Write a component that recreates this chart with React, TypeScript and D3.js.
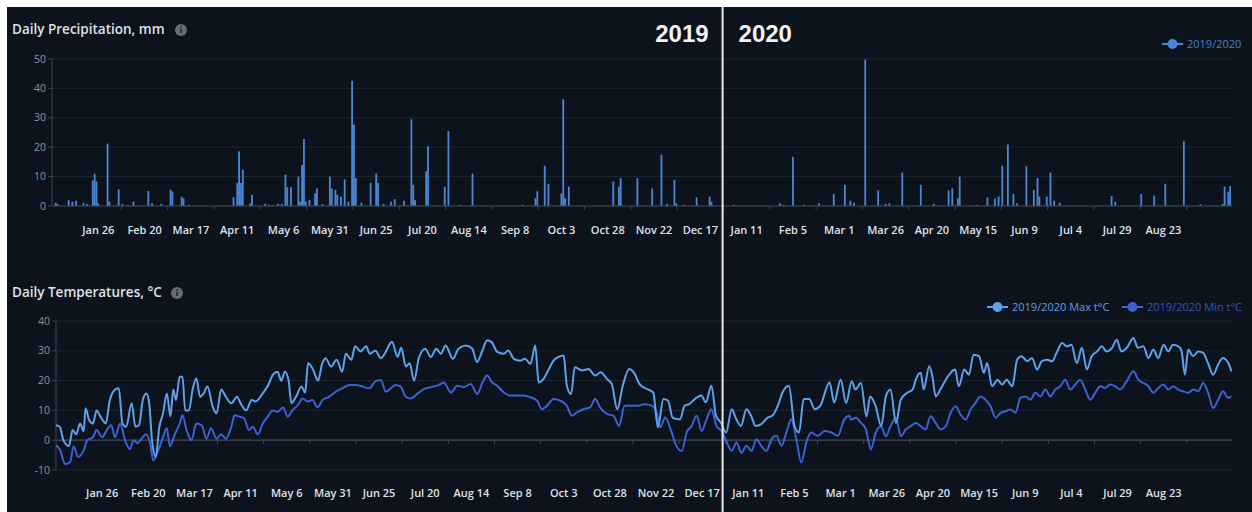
import * as d3 from "d3";

// day offsets are counted from 2019-01-01
const START = Date.UTC(2019, 0, 1);
const END_DAY = 637;
const DIVIDER_DAY = 362;

const tickDates = [
  "2019-01-26", "2019-02-20", "2019-03-17", "2019-04-11", "2019-05-06", "2019-05-31",
  "2019-06-25", "2019-07-20", "2019-08-14", "2019-09-08", "2019-10-03", "2019-10-28",
  "2019-11-22", "2019-12-17", "2020-01-11", "2020-02-05", "2020-03-01", "2020-03-26",
  "2020-04-20", "2020-05-15", "2020-06-09", "2020-07-04", "2020-07-29", "2020-08-23",
];
const precipTicks = [0, 10, 20, 30, 40, 50];
const tempTicks = [-10, 0, 10, 20, 30, 40];

// [day, mm]
const precip: [number, number][] = [
  [2, 1.1], [3, 0.7], [9, 2], [11, 1.5], [13, 1.8], [17, 1.1], [19, 0.7], [22, 8.7], [23, 11], [24, 8.3],
  [25, 0.9], [30, 21.2], [31, 1.5], [36, 5.7], [38, 0.7], [41, 0.4], [44, 1.5], [52, 5.1], [54, 0.9],
  [59, 0.7], [64, 5.5], [65, 4.9], [70, 3.2], [71, 2.6], [74, 0.4], [98, 3], [100, 7.8], [101, 18.6],
  [102, 7.8], [103, 12.3], [107, 0.9], [108, 3.8], [115, 0.7], [117, 0.4], [119, 0.4], [122, 0.7],
  [124, 0.7], [126, 10.6], [127, 6.4], [129, 6.4], [133, 10], [134, 1.5], [135, 14], [136, 22.8],
  [137, 1.5], [139, 2], [142, 4.3], [143, 6], [146, 0.7], [150, 10], [151, 6], [153, 5.5], [154, 3.8],
  [156, 3.2], [158, 9.1], [160, 1.5], [162, 42.6], [163, 27.7], [164, 9.5], [167, 1.1], [172, 7.8],
  [175, 11], [176, 7.8], [179, 0.7], [183, 1.5], [185, 2.3], [190, 1.8], [194, 29.5], [195, 7.2],
  [196, 2], [202, 11.8], [203, 20.3], [212, 6.6], [214, 25.5], [220, 0.4], [227, 11], [254, 0.4],
  [261, 2.6], [262, 5], [266, 13.7], [268, 7.5], [275, 4.3], [276, 36.3], [277, 2.6], [279, 6.6],
  [303, 8.3], [306, 6.6], [307, 9.5], [316, 9.5], [324, 6], [329, 17.5], [332, 0.7], [336, 8.9],
  [337, 0.9], [341, 0.4], [348, 2.9], [355, 3.2], [356, 1.5], [368, 0.4], [393, 0.9], [395, 0.4],
  [400, 16.7], [406, 0.4], [414, 0.9], [422, 4.1], [428, 7.2], [431, 1.8], [433, 1.1], [439, 49.8],
  [446, 5.3], [450, 0.7], [452, 0.9], [459, 11.4], [469, 7.2], [476, 0.7], [484, 5.3], [486, 6],
  [489, 2.6], [490, 10], [499, 0.4], [505, 2.9], [509, 2.6], [511, 3.2], [513, 13.7], [516, 20.9],
  [519, 4.1], [521, 0.9], [526, 13.5], [530, 5.5], [532, 9.5], [533, 3.2], [537, 3.2], [539, 11.4],
  [541, 1.8], [544, 1.1], [572, 3.4], [574, 1.5], [588, 4.1], [595, 3.5], [601, 7.5], [611, 22],
  [620, 0.6], [632, 0.7], [633, 6.6], [635, 4.9], [636, 6.8],
];

// [day, °C]
const maxTemp: [number, number][] = [
  [0, 5], [2, 4.5], [4, 0], [7, -2], [9, 3.4], [11, 2], [13, 5.6], [15, 3], [16, 10.7], [18, 6.7],
  [20, 5.6], [22, 10], [24, 8], [27, 5.6], [29, 13], [32, 17], [34, 17.4], [36, 5.6], [38, 4.5],
  [41, 12.4], [43, 4.5], [45, 5], [47, 13.5], [49, 15.7], [50.5, 12.4], [52, 0], [54, -5.6], [56, 4.5],
  [58, 9], [60, 15.7], [62, 8], [63.5, 17], [65, 13.5], [67, 21.3], [68.5, 21.3], [70, 10], [72, 10],
  [74, 17], [76, 20.8], [78, 14.6], [80, 15.7], [82, 18], [85, 11], [87, 9], [89.5, 17], [92, 14.6],
  [95, 12.4], [98, 14.6], [100, 12.4], [103, 10], [106, 13.5], [108, 13], [112, 15.7], [115, 18.5],
  [117.5, 22], [120, 23], [122, 20], [124, 23], [126, 20], [127.5, 12.4], [130, 14.6], [133, 18],
  [135, 16], [136.5, 25.8], [139, 24], [142, 20], [144, 25.3], [146, 27.5], [149, 24.7], [152, 27],
  [155, 23], [157, 29], [160, 27], [162, 31.5], [165, 29.8], [168, 31.5], [170, 29], [173, 30],
  [176, 27.5], [178, 29], [182, 33], [185, 28], [187, 31], [189.5, 24.7], [191.5, 25.8], [194, 20],
  [196.5, 27.5], [200, 30.7], [203, 27.9], [206, 30.7], [208.5, 29], [211, 31.8], [215, 27.3],
  [218, 30.7], [222, 31.8], [225.5, 30.7], [228, 26.2], [231, 30.1], [233.5, 33.5], [236, 32.9],
  [239, 29.6], [242.5, 29], [245, 30.1], [248, 27.3], [251.5, 26.7], [254, 27.3], [257, 25.6],
  [259.6, 31.8], [261.4, 19.4], [264, 20.5], [267, 23.9], [269.5, 26.7], [272, 27.9], [275, 28.4],
  [276.7, 18.3], [279, 15.5], [281, 24.5], [285, 23.4], [288.5, 23.9], [292, 21.7], [295, 22.8],
  [298.5, 20.5], [301, 18.9], [304, 10.4], [307, 18.3], [310.5, 23.9], [313.5, 22.2], [316, 18.9],
  [320, 17.2], [323.5, 16], [326, 4.3], [329, 13.8], [331.5, 13.3], [334, 7.6], [338, 7], [340.5, 11.6],
  [343, 12.1], [346, 13.8], [349.5, 15], [352, 12.7], [355, 18.3], [357.5, 8.2], [360, 6], [363, 2.6],
  [366, 10.4], [368.5, 7], [371, 4.8], [374, 10.4], [376.5, 8.2], [379, 4.8], [382, 5.4], [385.5, 7.6],
  [388, 8.2], [391, 11.6], [393.5, 16], [397, 18.3], [400, 4.8], [402.5, 2.6], [405, 13.8], [408, 13.8],
  [411, 10.4], [414, 11.6], [419, 19.4], [421.5, 12.7], [425, 20.3], [428, 12.5], [431, 19.8],
  [433, 17], [436, 19.2], [439, 8], [441, 14.7], [444, 11.4], [447, 4.7], [449.5, 14.7], [452, 17],
  [455, 5.8], [457.6, 13.6], [461, 15.9], [464, 17], [465.7, 20.3], [468.4, 22.6], [470, 17],
  [473, 24.8], [474.7, 21.5], [476.5, 14.7], [479, 17], [482, 20.3], [484.6, 22.6], [487, 23.7],
  [489, 18.1], [492, 23.7], [494.5, 22], [497, 28.7], [500, 28.2], [502.6, 22.6], [504.4, 25.9],
  [507, 18.1], [510, 20.3], [512.5, 18.7], [515, 20.3], [518, 18.1], [520.6, 27], [523, 28.2],
  [526, 26.5], [528.7, 27.6], [531.4, 23.7], [534, 26.5], [537, 27], [539.5, 26.5], [542, 29.3],
  [545, 32.6], [547.6, 31.5], [550, 32], [553, 25.9], [555.7, 31], [558.4, 23.7], [561, 28.2],
  [564, 29.8], [566.5, 31.5], [569, 29.8], [572, 31], [574.6, 33.7], [577, 29.8], [580, 31],
  [583.6, 34.3], [586, 31], [589, 31.5], [591.7, 27.6], [594.4, 30.4], [597, 27.6], [600, 32],
  [602.5, 29.8], [605, 32], [608, 31.5], [609.7, 29.8], [611.5, 22], [613.3, 30.4], [616, 28.2],
  [618.7, 29.8], [621.4, 29.3], [624, 25.9], [626.8, 22], [629.5, 25.4], [632, 27.6], [635, 25.9],
  [636.7, 23.1],
];

const minTemp: [number, number][] = [
  [0, -1.7], [2, -3], [5, -8], [7.7, -7.3], [9.5, -2], [12, -5.6], [15, -3.4], [17, 0], [20, 1],
  [22, 3.4], [25, 1], [27.5, 3.4], [30, 5], [32, 1], [34.7, 5.6], [37.4, 0], [40, -3], [42, 0],
  [44, -1], [46.4, 0.5], [48.7, 2], [51, -1], [52.7, -6.7], [55.4, -3.4], [58, 1], [60, 4], [61.7, -2],
  [64.4, 2], [67, 5.6], [68.5, 8.4], [70.7, 3.4], [73.4, 0], [76, 5.6], [79, 5], [81.5, 0.5], [84, 4],
  [87, 0.5], [89.5, 2], [92, 0.5], [95, 4.5], [96.7, 8.4], [99.4, 7.9], [102, 7.3], [104.5, 3.4],
  [106.6, 4.5], [109.3, 2], [112, 5.6], [114.7, 7.9], [117.4, 10], [120, 9.5], [123, 11], [125.5, 7.9],
  [128, 10], [131, 11.8], [133.6, 14], [136.3, 13], [139, 13.5], [141.7, 11], [144.4, 13.5],
  [148, 14.6], [151.6, 16.3], [155, 17.4], [159, 18.5], [162.4, 18.5], [166, 18], [169.6, 17.4],
  [173, 19.7], [176, 20.2], [178.6, 16.3], [181.3, 17.4], [184, 18.5], [186.7, 18], [189.4, 14.6],
  [192, 14], [196, 15.7], [199.5, 17.2], [203, 17.8], [206.6, 18.3], [210.2, 19.4], [213.8, 16],
  [217.4, 18.3], [221, 17.8], [224.6, 18.9], [228.2, 15.5], [231, 19.4], [233.5, 21.7], [236.2, 19.4],
  [239, 18.3], [242.6, 16], [246, 15], [249.7, 15], [253.3, 15], [257, 14.4], [260.5, 13.3],
  [263.2, 10.4], [266, 11.6], [269.5, 13.8], [273, 13.3], [276.7, 11.6], [279.4, 8.2], [282, 9.3],
  [285.7, 10.4], [289.3, 11], [292, 13.8], [294.7, 11], [298.3, 8.8], [302, 8.2], [305, 4.8],
  [308, 11.6], [312, 11.6], [315.5, 11.6], [319, 12.1], [322.7, 11.6], [325.4, 9.3], [327.2, 4.3],
  [330, 7.6], [333.5, 2.6], [336, -1.9], [339, -3.6], [341.6, 2.6], [344.3, 4.8], [347, 8.2],
  [349.7, 3.1], [352.4, 7], [355, 10.4], [357.8, 4.8], [360.5, 3.1], [363, -0.2], [366, -3.6],
  [368.6, -0.8], [371.3, -4.2], [374, -1.9], [376.7, -3.6], [379.4, 0.3], [382, -1.9], [384.8, -3.6],
  [387.5, 0.3], [390.2, 1.5], [393, -1.9], [395.6, 2.6], [398.3, 7], [401, 0.3], [403.7, -7.5],
  [406.4, -0.8], [409, 2.6], [412.7, 1.5], [416.3, 3.1], [420, 2.6], [423.5, 1.5], [427, 7],
  [429.7, 8.2], [430.7, 6.9], [433.4, 7.5], [436, 5.8], [438.7, 3.6], [441.4, -3.1], [444, 2.5],
  [446.8, 4.7], [449.5, 1.3], [452, 4.7], [455, 7.5], [457.6, 1.3], [460.3, 3.6], [463, 4.7],
  [465.7, 5.8], [468.4, 4.7], [471, 3.6], [473.8, 8], [476.5, 5.8], [479.2, 3.6], [482, 4.7],
  [484.6, 9.2], [487.3, 11.4], [490, 8.6], [492.7, 6.9], [495.4, 10.3], [498, 12.5], [500.8, 14.7],
  [503.5, 13.6], [506.2, 11.4], [508.9, 7.5], [511.6, 9.2], [514.3, 9.7], [517, 10.3], [519.7, 9.2],
  [522.4, 14.2], [525.1, 14.7], [527.8, 13.6], [530.5, 15.9], [533.2, 14.7], [535.9, 17], [538.6, 14.7],
  [541.3, 17], [544, 18.1], [546.7, 20.3], [549.4, 17], [552.1, 18.7], [554.8, 20.3], [557.5, 17],
  [560.2, 13.6], [562.9, 15.9], [565.6, 18.1], [568.3, 17.5], [571, 18.7], [573.7, 18.1], [576.4, 17],
  [580, 19.8], [583.6, 23.1], [586.3, 20.3], [589, 19.2], [591.7, 18.1], [594.4, 15.9], [597.1, 17.5],
  [599.8, 18.7], [602.5, 17], [605.2, 18.1], [607.9, 17], [610.6, 16.4], [613.3, 15.9], [616, 17],
  [618.7, 16.4], [621.4, 19.2], [624.1, 15.9], [626.8, 10.8], [629.5, 13.6], [632.2, 16.4],
  [634.9, 14.2], [636.7, 14.7],
];

const BG = "#0d131c";
const GRID = "#1c2631";
const AXIS = "#3a4551";
const LABEL = "#dde2e8";
const YLABEL = "#8a939d";
const BAR = "#4a88d4";
const MAX_C = "#5ea2ec";
const MIN_C = "#3a62d3";
const FONT = "'Open Sans', 'DejaVu Sans', sans-serif";

const toDate = (d: number) => new Date(START + d * 864e5);
const fmt = d3.utcFormat("%b %-d");

function InfoIcon({ x, y }: { x: number; y: number }) {
  return (
    <g>
      <circle cx={x} cy={y} r={6} fill="#646d78" />
      <rect x={x - 0.8} y={y - 1} width={1.6} height={4} fill="#1d252e" />
      <circle cx={x} cy={y - 3} r={0.9} fill="#1d252e" />
    </g>
  );
}

function XAxis({ x, y, labelY }: { x: d3.ScaleTime<number, number>; y: number; labelY: number }) {
  const [x0, x1] = x.range();
  return (
    <g>
      <line x1={x0} x2={x1} y1={y} y2={y} stroke={AXIS} />
      {tickDates.map((s) => {
        const d = new Date(s + "T00:00:00Z");
        const mid = new Date(d.getTime() + 12.5 * 864e5);
        return (
          <g key={s}>
            {x(mid) < x1 && <line x1={x(mid)} x2={x(mid)} y1={y} y2={y + 4} stroke={AXIS} />}
            <text x={x(d)} y={labelY} textAnchor="middle" fill={LABEL} fontSize={11} fontWeight={600}>
              {fmt(d)}
            </text>
          </g>
        );
      })}
    </g>
  );
}

function YGrid({ y, ticks, x0, x1 }: { y: d3.ScaleLinear<number, number>; ticks: number[]; x0: number; x1: number }) {
  return (
    <g>
      {ticks.map((t) => (
        <g key={t}>
          <line x1={x0} x2={x1} y1={y(t)} y2={y(t)} stroke={GRID} />
          <line x1={x0 - 4} x2={x0} y1={y(t)} y2={y(t)} stroke={AXIS} />
          <text x={x0 - 6} y={y(t)} dy="0.35em" textAnchor="end" fill={YLABEL} fontSize={10.5}>
            {t}
          </text>
        </g>
      ))}
      <line x1={x0} x2={x0} y1={y(ticks[ticks.length - 1])} y2={y(ticks[0])} stroke={AXIS} />
    </g>
  );
}

function LegendItem({ x, y, color, text, textColor }: { x: number; y: number; color: string; text: string; textColor: string }) {
  return (
    <g>
      <line x1={x} x2={x + 21} y1={y} y2={y} stroke={color} strokeWidth={2} />
      <circle cx={x + 10.5} cy={y} r={5} fill={color} />
      <text x={x + 25} y={y} dy="0.35em" fill={textColor} fontSize={11}>
        {text}
      </text>
    </g>
  );
}

export default function App() {
  const xTop = d3.scaleUtc().domain([toDate(0), toDate(END_DAY)]).range([52, 1232]);
  const xBot = d3.scaleUtc().domain([toDate(0), toDate(END_DAY)]).range([56, 1232]);
  const yTop = d3.scaleLinear().domain([0, 50]).range([206, 59]);
  const yBot = d3.scaleLinear().domain([-10, 40]).range([470, 321]);

  const line = d3
    .line<[number, number]>()
    .x((d) => xBot(toDate(d[0])))
    .y((d) => yBot(d[1]))
    .curve(d3.curveMonotoneX);

  const divX = xTop(toDate(DIVIDER_DAY));

  return (
    <div style={{ position: "absolute", left: 0, top: 0, width: 1252, height: 512 }}>
      <svg width={1252} height={512} style={{ display: "block", fontFamily: FONT }}>
        <rect width={1252} height={512} fill="#ffffff" />
        <rect x={7} y={7} width={1245} height={505} fill={BG} />

        {/* precipitation */}
        <text x={12} y={34} fill={LABEL} fontSize={13.5} fontWeight={600}>
          Daily Precipitation, mm
        </text>
        <InfoIcon x={181} y={30} />
        <YGrid y={yTop} ticks={precipTicks} x0={52} x1={1232} />
        {precip.map(([d, v]) => (
          <rect
            key={d}
            x={xTop(toDate(d)) - 0.9}
            y={yTop(v)}
            width={1.8}
            height={yTop(0) - yTop(v)}
            fill={BAR}
          />
        ))}
        <XAxis x={xTop} y={yTop(0)} labelY={234} />
        <LegendItem x={1162} y={44} color={BAR} text="2019/2020" textColor="#4381d2" />

        {/* temperatures */}
        <text x={12} y={297} fill={LABEL} fontSize={13.5} fontWeight={600}>
          Daily Temperatures, °C
        </text>
        <InfoIcon x={177} y={293} />
        <YGrid y={yBot} ticks={tempTicks} x0={56} x1={1232} />
        <line x1={56} x2={1232} y1={yBot(0)} y2={yBot(0)} stroke={AXIS} />
        <XAxis x={xBot} y={yBot(0)} labelY={497} />
        <path d={line(minTemp) || ""} fill="none" stroke={MIN_C} strokeWidth={2} />
        <path d={line(maxTemp) || ""} fill="none" stroke={MAX_C} strokeWidth={2} />
        <LegendItem x={987} y={307} color={MAX_C} text="2019/2020 Max t°C" textColor="#5f9ee6" />
        <LegendItem x={1122} y={307} color={MIN_C} text="2019/2020 Min t°C" textColor="#2f55bd" />

        {/* year divider */}
        <line x1={divX} x2={divX} y1={7} y2={512} stroke="#e8eaec" strokeWidth={2} />
        <text x={divX - 14} y={42} textAnchor="end" fill="#f2f2f2" fontSize={24} fontWeight={700} fontFamily="'Liberation Sans', Arial, sans-serif">
          2019
        </text>
        <text x={divX + 16} y={42} fill="#f2f2f2" fontSize={24} fontWeight={700} fontFamily="'Liberation Sans', Arial, sans-serif">
          2020
        </text>
      </svg>
    </div>
  );
}
